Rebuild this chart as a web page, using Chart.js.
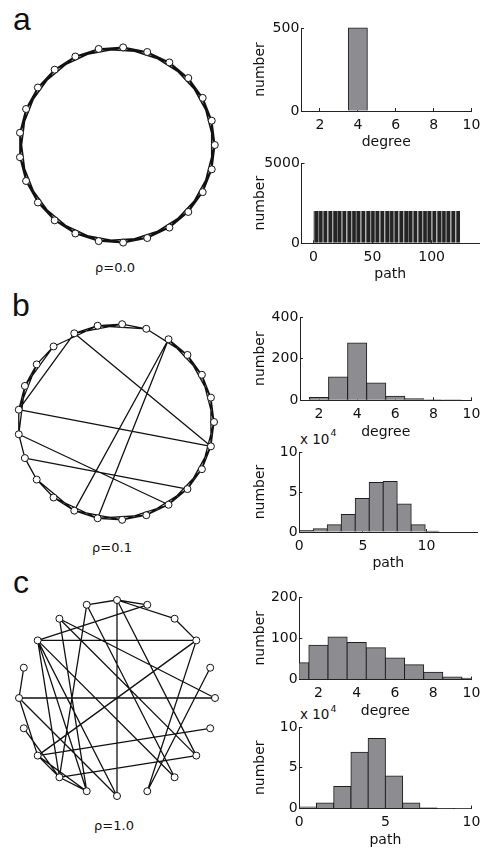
<!DOCTYPE html>
<html>
<head>
<meta charset="utf-8">
<script src="https://cdn.jsdelivr.net/npm/chart.js@4.4.1/dist/chart.umd.min.js"></script>
<style>
  html, body { margin: 0; padding: 0; background: #fff; }
  #page { position: relative; width: 489px; height: 851px; overflow: hidden; background: #fff; }
  canvas { position: absolute; }
  .lab { position: absolute; color: #111; line-height: 1; white-space: nowrap; }
  .panel { font-family: "Liberation Sans", Arial, sans-serif; font-size: 32px; }
  .rho { font-family: "DejaVu Sans", sans-serif; font-size: 13px; transform: translateX(-50%); }
  .exp { font-family: "DejaVu Sans", sans-serif; font-size: 13.5px; }
  .sup { font-family: "DejaVu Sans", sans-serif; font-size: 9.5px; }
</style>
</head>
<body>
<div id="page">
  <div class="lab panel" style="left:13px;top:3px">a</div>
  <div class="lab panel" style="left:12px;top:289px">b</div>
  <div class="lab panel" style="left:13px;top:566px">c</div>
  <div class="lab rho" style="left:115px;top:260.7px">ρ=0.0</div>
  <div class="lab rho" style="left:112px;top:540.7px">ρ=0.1</div>
  <div class="lab rho" style="left:114px;top:819px">ρ=1.0</div>
  <div class="lab exp" style="left:300px;top:432.7px">x 10</div>
  <div class="lab sup" style="left:330.5px;top:428px">4</div>
  <div class="lab exp" style="left:300px;top:708.3px">x 10</div>
  <div class="lab sup" style="left:330.5px;top:704px">4</div>
</div>
<script>
// ---------------- DATA ----------------
// Network panels: node counts and edge lists (node index pairs; nodes sit on a circle by index)
const netA_nodeCount = 25;
const netA_edges = [
  [0,1],[0,2],[1,2],[1,3],[2,3],[2,4],[3,4],[3,5],[4,5],[4,6],[5,6],[5,7],[6,7],[6,8],
  [7,8],[7,9],[8,9],[8,10],[9,10],[9,11],[10,11],[10,12],[11,12],[11,13],[12,13],[12,14],
  [13,14],[13,15],[14,15],[14,16],[15,16],[15,17],[16,17],[16,18],[17,18],[17,19],[18,19],
  [18,20],[19,20],[19,21],[20,21],[20,22],[21,22],[21,23],[22,23],[22,24],[23,24],[23,0],
  [24,0],[24,1]
];
const netB_nodeCount = 25;
const netB_edges = [
  [0,1],[0,2],[1,2],[1,3],[2,3],[2,4],[3,4],[3,5],[5,6],[5,7],[6,7],[6,8],
  [7,8],[7,9],[9,10],[9,11],[10,11],[10,12],[11,12],[11,13],[12,13],
  [13,14],[14,15],[15,16],[15,17],[16,17],[16,18],[17,18],[17,19],[18,19],
  [18,20],[19,20],[19,21],[20,21],[20,22],[21,22],[21,23],[22,23],[22,24],[23,24],[23,0],
  [24,0],[24,1],
  [4,17],[4,18],[8,24],[8,12],[12,24],[13,21],[14,22]
];
const netC_nodeCount = 20;
const netC_edges = [
  [5,6],[5,4],[5,3],[3,2],[5,15],[8,2],[8,4],[10,0],[9,10],[7,0],[2,12],[2,16],[1,16],
  [19,12],[18,13],[10,12],[12,13],[13,14],[12,14],[6,13],[8,13],[8,14],[8,15],[8,17],
  [7,14],[6,17],[5,18],[7,18],[10,15],[11,13]
];

// Degree histograms (bin centres, counts)
const degreeBins    = [1, 2, 3, 4, 5, 6, 7, 8, 9, 10];
const degreeCountsA = [0, 0, 0, 500, 0, 0, 0, 0, 0, 0];
const degreeCountsB = [0, 13, 112, 275, 83, 19, 8, 2, 1, 0];
const degreeCountsC = [41, 83, 103, 90, 77, 52, 36, 18, 6, 3];
const degreeTicks   = [2, 4, 6, 8, 10];
const degreeYTicksA = [0, 500];
const degreeYTicksB = [0, 200, 400];
const degreeYTicksC = [0, 100, 200];

// Path-length histograms (bin centres, counts; B and C in units of 10^4)
const pathBinsA   = [2, 6, 10, 14, 18, 22, 26, 30, 34, 38, 42, 46, 50, 54, 58, 62, 66, 70, 74, 78,
                     82, 86, 90, 94, 98, 102, 106, 110, 114, 118, 122];
const pathCountsA = [2000, 2000, 2000, 2000, 2000, 2000, 2000, 2000, 2000, 2000, 2000, 2000, 2000,
                     2000, 2000, 2000, 2000, 2000, 2000, 2000, 2000, 2000, 2000, 2000, 2000, 2000,
                     2000, 2000, 2000, 2000, 2000];
const pathTicksA  = [0, 50, 100];
const pathYTicksA = [0, 5000];
const pathBinsB   = [0.55, 1.65, 2.75, 3.85, 4.95, 6.05, 7.15, 8.25, 9.35, 10.45];
const pathCountsB = [0.2, 0.4, 0.9, 2.2, 4.2, 6.2, 6.3, 3.5, 0.9, 0.1];
const pathTicksB  = [0, 5, 10];
const pathYTicksB = [0, 5, 10];
const pathBinsC   = [0.5, 1.5, 2.5, 3.5, 4.5, 5.5, 6.5, 7.5, 8.5, 9.5];
const pathCountsC = [0.2, 0.7, 2.7, 6.9, 8.6, 4.0, 0.7, 0.08, 0.04, 0.01];
const pathTicksC  = [0, 5, 10];
const pathYTicksC = [0, 5, 10];

// ---------------- DRAWING ----------------
const page = document.getElementById('page');
const FAMILY = "'DejaVu Sans', sans-serif";
const INK = '#111';

function makeNet(o) {
  const S = 236;
  const cv = document.createElement('canvas');
  cv.width = S; cv.height = S;
  cv.style.left = (o.cx - S / 2) + 'px';
  cv.style.top = (o.cy - S / 2) + 'px';
  page.appendChild(cv);
  const ext = (S / 2) / o.r;
  const pos = i => ({ x: Math.cos(2 * Math.PI * i / o.n), y: Math.sin(2 * Math.PI * i / o.n) });
  const nodes = [];
  for (let i = 0; i < o.n; i++) nodes.push(pos(i));
  const seg = [];
  o.edges.forEach(([a, b]) => { seg.push(pos(a), pos(b), { x: null, y: null }); });
  new Chart(cv, {
    type: 'scatter',
    data: {
      datasets: [
        { label: 'nodes', data: nodes, order: 0, pointRadius: 3.5, pointHoverRadius: 3.5,
          pointBackgroundColor: '#fff', pointBorderColor: INK, pointBorderWidth: 1 },
        { label: 'edges', type: 'line', data: seg, order: 1, borderColor: INK, borderWidth: o.lw,
          pointRadius: 0, pointHoverRadius: 0, spanGaps: false, fill: false, tension: 0 }
      ]
    },
    options: {
      responsive: false, animation: false, devicePixelRatio: 1,
      layout: { padding: 0, autoPadding: false },
      plugins: { legend: { display: false }, tooltip: { enabled: false } },
      events: [],
      scales: {
        x: { type: 'linear', display: false, min: -ext, max: ext },
        y: { type: 'linear', display: false, min: -ext, max: ext }
      }
    }
  });
}

function makeHist(o) {
  const CL = 240, W = 249, PT = 14, XH = 40, PB = 2;
  const H = PT + (o.bottom - o.top) + XH + PB;
  const cv = document.createElement('canvas');
  cv.width = W; cv.height = Math.round(H);
  cv.style.left = CL + 'px';
  cv.style.top = (o.top - PT) + 'px';
  page.appendChild(cv);
  const font = { family: FAMILY, size: 14 };
  const dark = !!o.dark;
  new Chart(cv, {
    type: 'bar',
    data: {
      datasets: [{
        data: o.centers.map((c, i) => ({ x: c, y: o.counts[i] })),
        backgroundColor: dark ? '#242424' : '#8d8d91',
        borderColor: dark ? '#6e6e6e' : '#1e1e1e',
        borderWidth: dark ? { left: 1, top: 0, right: 0, bottom: 0 } : 1,
        inflateAmount: dark ? 0 : 0.5,
        categoryPercentage: 1, barPercentage: 1,
        clip: { left: 0, right: 0, top: 3, bottom: 0 }
      }]
    },
    options: {
      responsive: false, animation: false, devicePixelRatio: 1,
      events: [],
      layout: { autoPadding: false,
        padding: { left: 0, top: PT, right: W - (o.right - CL), bottom: cv.height - PT - (o.bottom - o.top) - XH } },
      plugins: { legend: { display: false }, tooltip: { enabled: false } },
      scales: {
        x: {
          type: 'linear', min: o.xmin, max: o.xmax, offset: false,
          afterBuildTicks: s => { s.ticks = o.xticks.map(v => ({ value: v })); },
          afterFit: s => { s.height = XH; },
          grid: { display: true, offset: false, drawOnChartArea: false, drawTicks: true, tickLength: -3, color: '#222', lineWidth: 1 },
          border: { display: true, color: '#222', width: 1 },
          ticks: { autoSkip: false, maxRotation: 0, minRotation: 0, padding: 8.6, font, color: INK,
                   callback: v => String(v) },
          title: { display: true, text: o.xlabel, font, color: INK, padding: { top: 0, bottom: 0 } }
        },
        y: {
          type: 'linear', min: o.ymin, max: o.ymax,
          afterBuildTicks: s => { s.ticks = o.yticks.map(v => ({ value: v })); },
          afterFit: s => { s.width = o.left - CL; },
          grid: { display: true, drawOnChartArea: false, drawTicks: true, tickLength: -3, color: '#222', lineWidth: 1 },
          border: { display: true, color: '#222', width: 1 },
          ticks: { autoSkip: false, padding: 4.7, font, color: INK, callback: v => String(v) },
          title: { display: true, text: 'number', font, color: INK, padding: { top: 11.6, bottom: 0 } }
        }
      }
    }
  });
}

// networks
makeNet({ cx: 116.7, cy: 145, r: 97.8, n: netA_nodeCount, edges: netA_edges, lw: 1.6 });
makeNet({ cx: 116.3, cy: 422, r: 98,   n: netB_nodeCount, edges: netB_edges, lw: 1.3 });
makeNet({ cx: 117.2, cy: 698, r: 98,   n: netC_nodeCount, edges: netC_edges, lw: 1.3 });

// degree histograms
makeHist({ left: 301, right: 479, top: 28, bottom: 111, xmin: 1, xmax: 10, xticks: degreeTicks,
  ymin: 0, ymax: 500, yticks: degreeYTicksA, centers: degreeBins, counts: degreeCountsA, xlabel: 'degree' });
makeHist({ left: 300, right: 478.3, top: 316.7, bottom: 400, xmin: 1, xmax: 10, xticks: degreeTicks,
  ymin: 0, ymax: 400, yticks: degreeYTicksB, centers: degreeBins, counts: degreeCountsB, xlabel: 'degree' });
makeHist({ left: 299.3, right: 478.3, top: 596.7, bottom: 679.3, xmin: 1, xmax: 10, xticks: degreeTicks,
  ymin: 0, ymax: 200, yticks: degreeYTicksC, centers: degreeBins, counts: degreeCountsC, xlabel: 'degree' });

// path histograms
makeHist({ left: 301.5, right: 479, top: 163.3, bottom: 243.5, xmin: -10, xmax: 140, xticks: pathTicksA,
  ymin: 0, ymax: 5000, yticks: pathYTicksA, centers: pathBinsA, counts: pathCountsA, xlabel: 'path', dark: true });
makeHist({ left: 299.3, right: 477.3, top: 451.7, bottom: 531.7, xmin: 0, xmax: 14, xticks: pathTicksB,
  ymin: 0, ymax: 10, yticks: pathYTicksB, centers: pathBinsB, counts: pathCountsB, xlabel: 'path' });
makeHist({ left: 299.3, right: 477.3, top: 726.7, bottom: 808.3, xmin: 0, xmax: 10, xticks: pathTicksC,
  ymin: 0, ymax: 10, yticks: pathYTicksC, centers: pathBinsC, counts: pathCountsC, xlabel: 'path' });
</script>
</body>
</html>
